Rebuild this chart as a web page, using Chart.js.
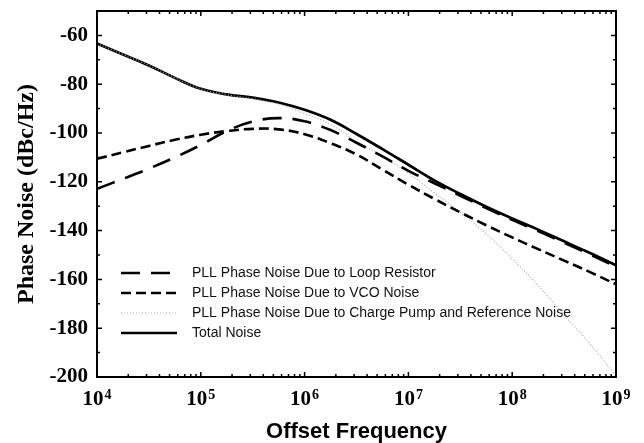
<!DOCTYPE html>
<html><head><meta charset="utf-8">
<script src="https://cdn.jsdelivr.net/npm/chart.js@4/dist/chart.umd.min.js"></script>
<style>html,body{margin:0;padding:0;background:#fff;}#wrap{width:644px;height:443px;position:relative;}</style>
</head><body><div id="wrap"><canvas id="c" width="644" height="443"></canvas></div>
<script>
const freqs = [1e4, 1.778e4, 3.162e4, 5.623e4, 1e5, 1.778e5, 3.162e5, 5.623e5, 1e6, 1.778e6, 3.162e6, 5.623e6, 1e7, 1.778e7, 3.162e7, 5.623e7, 1e8, 1.778e8, 3.162e8, 5.623e8, 1e9];
const loopResistor = [-122.9, -118.8, -114.6, -110.0, -104.9, -99.2, -95.3, -93.9, -95.2, -98.8, -104.0, -109.6, -115.5, -120.6, -125.7, -130.8, -135.6, -140.2, -145.0, -149.8, -154.8];
const vcoNoise = [-110.6, -107.9, -105.3, -102.8, -100.7, -99.2, -98.3, -98.5, -100.5, -104.2, -108.8, -115.0, -121.2, -127.0, -132.5, -137.8, -142.8, -147.6, -152.3, -157.0, -162.0];
const cpRefNoise = [-63.3, -67.8, -72.3, -77.4, -81.9, -84.3, -85.9, -88.2, -92.0, -96.5, -103.5, -109.5, -116.5, -124.5, -132.5, -141.5, -151.5, -162.5, -174.5, -186.5, -199.5];
const totalNoise = [-63.3, -67.8, -72.3, -77.4, -81.9, -84.2, -85.5, -87.5, -90.5, -94.6, -100.4, -106.6, -113.0, -119.4, -125.0, -130.2, -135.0, -139.6, -144.4, -149.2, -154.2];
const seriesLabels = ['PLL Phase Noise Due to Loop Resistor', 'PLL Phase Noise Due to VCO Noise', 'PLL Phase Noise Due to Charge Pump and Reference Noise', 'Total Noise'];
const xTickValues = [1e4, 1e5, 1e6, 1e7, 1e8, 1e9];
const xTickBase = ['10', '10', '10', '10', '10', '10'];
const xTickExponents = ['4', '5', '6', '7', '8', '9'];
const yTickValues = [-200, -180, -160, -140, -120, -100, -80, -60];
const xTitle = 'Offset Frequency';
const yTitle = 'Phase Noise (dBc/Hz)';

const toPts = arr => arr.map((v, i) => ({x: freqs[i], y: v}));
const SERIF = '"Liberation Serif", "Times New Roman", serif';

const framePlugin = {
  id: 'frame',
  afterDatasetsDraw(chart) {
    const {ctx, chartArea: a, scales} = chart;
    const x = scales.x, y = scales.y;
    ctx.save();
    ctx.strokeStyle = '#000';
    ctx.lineWidth = 1.5;
    ctx.beginPath();
    for (let d = 4; d <= 8; d++) {
      for (let m = 1; m <= 9; m++) {
        const px = x.getPixelForValue(m * Math.pow(10, d));
        const len = m === 1 ? 5 : 3;
        ctx.moveTo(px, a.bottom); ctx.lineTo(px, a.bottom - len);
        ctx.moveTo(px, a.top); ctx.lineTo(px, a.top + len);
      }
    }
    for (let v = -200; v <= -50; v += 10) {
      const py = y.getPixelForValue(v);
      const len = (v % 20 === 0) ? 5 : 3;
      ctx.moveTo(a.left, py); ctx.lineTo(a.left + len, py);
      ctx.moveTo(a.right, py); ctx.lineTo(a.right - len, py);
    }
    ctx.stroke();
    ctx.lineWidth = 2;
    ctx.strokeRect(a.left, a.top, a.right - a.left, a.bottom - a.top);

    // x tick labels with superscript exponent
    ctx.fillStyle = '#000';
    ctx.textBaseline = 'alphabetic';
    ctx.textAlign = 'left';
    xTickValues.forEach((v, i) => {
      const px = x.getPixelForValue(v);
      ctx.font = 'bold 21px ' + SERIF;
      const wb = ctx.measureText(xTickBase[i]).width;
      ctx.font = 'bold 14px ' + SERIF;
      const we = ctx.measureText(xTickExponents[i]).width;
      const sx = px - (wb + we + 1) / 2;
      ctx.font = 'bold 21px ' + SERIF;
      ctx.fillText(xTickBase[i], sx, a.bottom + 28);
      ctx.font = 'bold 14px ' + SERIF;
      ctx.fillText(xTickExponents[i], sx + wb + 1, a.bottom + 22);
    });

    // legend inside plot
    const x0 = a.left + 24, y0 = a.top + 262, rowH = 20;
    ctx.font = '14px "Liberation Sans", Arial, sans-serif';
    ctx.textBaseline = 'middle';
    ctx.textAlign = 'left';
    chart.data.datasets.forEach((ds, i) => {
      const yy = y0 + i * rowH;
      ctx.save();
      ctx.strokeStyle = ds.borderColor;
      ctx.lineWidth = ds.borderWidth;
      ctx.setLineDash(ds.borderDash || []);
      ctx.beginPath();
      ctx.moveTo(x0, yy); ctx.lineTo(x0 + 56, yy);
      ctx.stroke();
      ctx.restore();
      ctx.fillStyle = '#111';
      ctx.fillText(ds.label, x0 + 71, yy);
    });
    ctx.restore();
  }
};

new Chart(document.getElementById('c'), {
  type: 'line',
  data: {
    datasets: [
      {label: seriesLabels[0], data: toPts(loopResistor), borderColor: '#000', borderWidth: 2.6, borderDash: [19, 11]},
      {label: seriesLabels[1], data: toPts(vcoNoise), borderColor: '#000', borderWidth: 2.6, borderDash: [10, 5]},
      {label: seriesLabels[2], data: toPts(cpRefNoise), borderColor: '#a8a8a8', borderWidth: 1.2, borderDash: [1, 2]},
      {label: seriesLabels[3], data: toPts(totalNoise), borderColor: '#000', borderWidth: 2.7, borderDash: []}
    ]
  },
  options: {
    responsive: false,
    animation: false,
    devicePixelRatio: 1,
    layout: {padding: {top: 11, right: 28, left: 0, bottom: 0}},
    elements: {point: {radius: 0}, line: {tension: 0.4, fill: false}},
    plugins: {legend: {display: false}, tooltip: {enabled: false}},
    scales: {
      x: {
        type: 'logarithmic', min: 1e4, max: 1e9,
        afterBuildTicks: s => { s.ticks = xTickValues.map(v => ({value: v, major: true})); },
        afterFit: s => { s.height = 66; s.paddingLeft = 0; s.paddingRight = 0; },
        grid: {display: false, drawTicks: false},
        border: {display: false},
        ticks: {display: false},
        title: {display: true, text: xTitle, color: '#000', padding: {top: 0, bottom: 0},
          font: {family: '"Liberation Sans", Arial, sans-serif', size: 22, weight: 'bold', lineHeight: 1}}
      },
      y: {
        type: 'linear', min: -200, max: -50,
        afterBuildTicks: s => { s.ticks = yTickValues.map(v => ({value: v})); },
        afterFit: s => { s.width = 97; s.paddingTop = 0; s.paddingBottom = 0; },
        grid: {display: false, drawTicks: false},
        border: {display: false},
        ticks: {
          padding: 9, color: '#000',
          font: {family: SERIF, size: 21, weight: 'bold'}
        },
        title: {display: true, text: yTitle, color: '#000', padding: {top: 12, bottom: 0},
          font: {family: SERIF, size: 24, weight: 'bold', lineHeight: 1.2}}
      }
    }
  },
  plugins: [framePlugin]
});
</script>
</body></html>
